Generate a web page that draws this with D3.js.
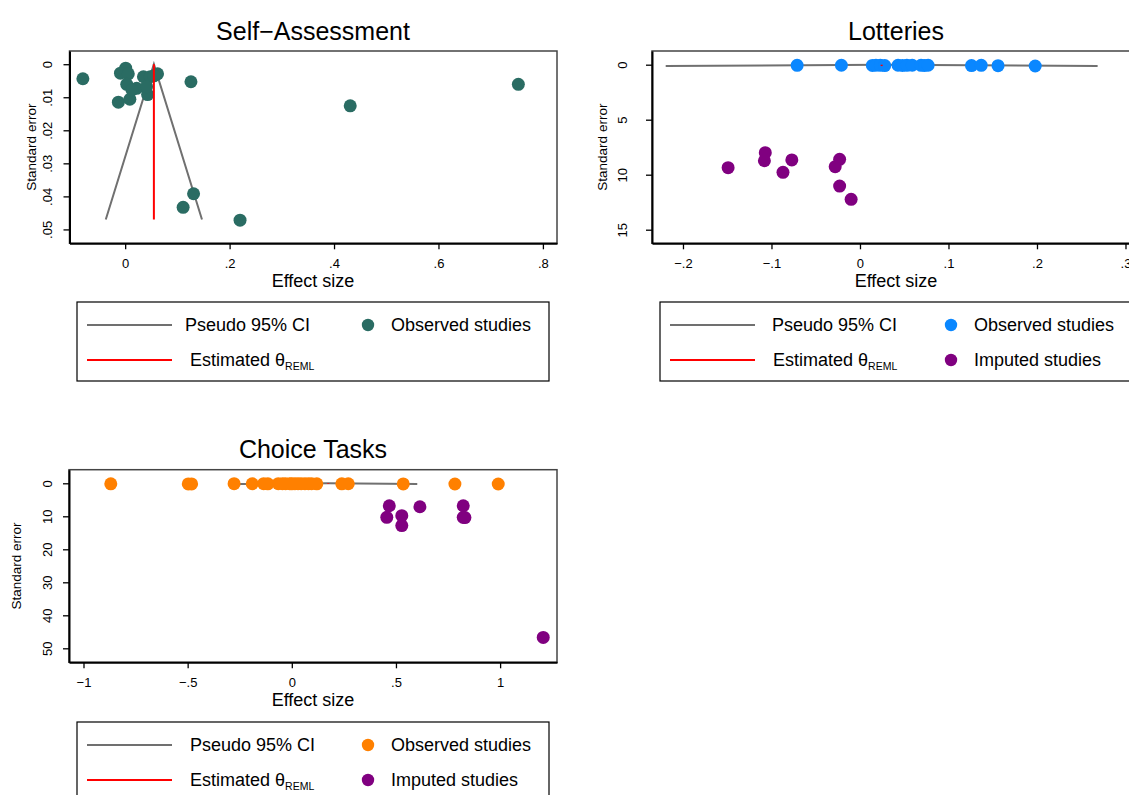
<!DOCTYPE html>
<html>
<head>
<meta charset="utf-8">
<script src="https://cdn.jsdelivr.net/npm/d3@7"></script>
<style>
  html, body { margin: 0; padding: 0; background: #fff; }
  svg { display: block; font-family: "Liberation Sans", Arial, Helvetica, sans-serif; }
</style>
</head>
<body>
<svg id="chart" width="1129" height="795"></svg>
<script>
// ---------- Self-Assessment ----------
const saEffect = [-0.081, 0.753, 0.431, 0.126, 0.131, 0.111, 0.220, -0.013, 0.009, 0.043, 0.062,
                  0.001, -0.009, 0.006, 0.003, 0.022, 0.035, 0.048, 0.041, 0.013, 0.055];
const saSE     = [0.0044, 0.0061, 0.0126, 0.0053, 0.0392, 0.0433, 0.0472, 0.0115, 0.0106, 0.0092, 0.0029,
                  0.0012, 0.0027, 0.0029, 0.0061, 0.0073, 0.0038, 0.0038, 0.0068, 0.0078, 0.0035];
const saTheta = 0.055;
const saMaxSE = 0.047;
const saXTicks = [0, 0.2, 0.4, 0.6, 0.8];
const saXLabels = ["0", ".2", ".4", ".6", ".8"];
const saYTicks = [0, 0.01, 0.02, 0.03, 0.04, 0.05];
const saYLabels = ["0", ".01", ".02", ".03", ".04", ".05"];

// ---------- Lotteries ----------
const lotEffect = [-0.071, -0.021, 0.014, 0.018, 0.023, 0.028, 0.043, 0.048, 0.053, 0.059,
                   0.069, 0.073, 0.077, 0.126, 0.137, 0.156, 0.198];
const lotSE     = [0.06, 0.05, 0.07, 0.05, 0.06, 0.08, 0.05, 0.07, 0.06, 0.05,
                   0.06, 0.07, 0.05, 0.08, 0.06, 0.09, 0.12];
const lotImpEffect = [-0.149, -0.107, -0.108, -0.077, -0.087, -0.023, -0.028, -0.023, -0.010];
const lotImpSE     = [9.36, 8.00, 8.73, 8.66, 9.78, 8.60, 9.27, 11.03, 12.24];
const lotTheta = 0.0245;
const lotMaxSE = 0.1245;
const lotXTicks = [-0.2, -0.1, 0, 0.1, 0.2, 0.3];
const lotXLabels = ["\u2212.2", "\u2212.1", "0", ".1", ".2", ".3"];
const lotYTicks = [0, 5, 10, 15];
const lotYLabels = ["0", "5", "10", "15"];

// ---------- Choice Tasks ----------
const ctEffect = [-0.869, -0.497, -0.481, -0.277, -0.190, -0.135, -0.115, -0.065, -0.045, -0.030,
                  -0.010, 0.000, 0.015, 0.030, 0.045, 0.063, 0.080, 0.095, 0.120, 0.240,
                  0.271, 0.535, 0.783, 0.991];
const ctSE     = [0.15, 0.20, 0.18, 0.12, 0.14, 0.10, 0.16, 0.11, 0.13, 0.12,
                  0.10, 0.15, 0.12, 0.11, 0.14, 0.10, 0.13, 0.12, 0.15, 0.17,
                  0.14, 0.19, 0.21, 0.218];
const ctImpEffect = [0.468, 0.456, 0.528, 0.528, 0.615, 0.823, 0.823, 0.831, 1.207];
const ctImpSE     = [6.8, 10.3, 9.8, 12.8, 7.1, 6.8, 10.3, 10.4, 46.7];
const ctTheta = 0.175;
const ctMaxSE = 0.218;
const ctXTicks = [-1, -0.5, 0, 0.5, 1];
const ctXLabels = ["\u22121", "\u2212.5", "0", ".5", "1"];
const ctYTicks = [0, 10, 20, 30, 40, 50];
const ctYLabels = ["0", "10", "20", "30", "40", "50"];

// ---------- colours ----------
const colGreen = "#2a6c63";
const colBlue = "#0a87ff";
const colOrange = "#ff8000";
const colPurple = "#800080";
const colCI = "#707070";
const colTheta = "#ff0000";

const svg = d3.select("#chart");

function drawPanel(p) {
  const g = svg.append("g");
  const x = d3.scaleLinear().domain(p.xDomain).range([p.left, p.right]);
  const y = d3.scaleLinear().domain(p.yDomain).range([p.top, p.bottom]);

  // plot region outline
  g.append("rect")
    .attr("x", p.left).attr("y", p.top)
    .attr("width", p.right - p.left).attr("height", p.bottom - p.top)
    .attr("fill", "none").attr("stroke", "#444").attr("stroke-width", 1.5);

  // pseudo 95% confidence limits
  const ci = [[p.theta - 1.96 * p.maxSE, p.maxSE], [p.theta, 0], [p.theta + 1.96 * p.maxSE, p.maxSE]];
  g.append("path").datum(ci)
    .attr("d", d3.line().x(d => x(d[0])).y(d => y(d[1])))
    .attr("fill", "none").attr("stroke", colCI).attr("stroke-width", 2);

  // observed studies
  g.append("g").selectAll("circle")
    .data(d3.zip(p.obsEffect, p.obsSE))
    .join("circle")
    .attr("cx", d => x(d[0])).attr("cy", d => y(d[1]))
    .attr("r", 6.5).attr("fill", p.obsColor);

  // imputed studies
  if (p.impEffect) {
    g.append("g").selectAll("circle")
      .data(d3.zip(p.impEffect, p.impSE))
      .join("circle")
      .attr("cx", d => x(d[0])).attr("cy", d => y(d[1]))
      .attr("r", 6.5).attr("fill", colPurple);
  }

  // estimated effect
  g.append("line")
    .attr("x1", x(p.theta)).attr("x2", x(p.theta))
    .attr("y1", y(0)).attr("y2", y(p.maxSE))
    .attr("stroke", colTheta).attr("stroke-width", 2);

  // x axis
  const xAxis = d3.axisBottom(x)
    .tickValues(p.xTicks)
    .tickFormat(d => p.xLabels[p.xTicks.indexOf(d)])
    .tickSize(6).tickSizeOuter(0);
  const gx = g.append("g").attr("transform", `translate(0,${p.bottom})`).call(xAxis)
    .attr("font-family", null).attr("font-size", null);
  gx.select(".domain").attr("stroke", "#000").attr("stroke-width", 2);
  gx.selectAll(".tick line").attr("stroke", "#000").attr("stroke-width", 1.3);
  gx.selectAll(".tick text").attr("y", 25).attr("dy", 0)
    .attr("font-size", 13).attr("fill", "#000");

  // y axis
  const yAxis = d3.axisLeft(y)
    .tickValues(p.yTicks)
    .tickFormat(d => p.yLabels[p.yTicks.indexOf(d)])
    .tickSize(6).tickSizeOuter(0);
  const gy = g.append("g").attr("transform", `translate(${p.left},0)`).call(yAxis)
    .attr("font-family", null).attr("font-size", null);
  gy.select(".domain").attr("stroke", "#000").attr("stroke-width", 2);
  gy.selectAll(".tick line").attr("stroke", "#000").attr("stroke-width", 1.3);
  gy.selectAll(".tick text")
    .attr("x", null).attr("dy", null)
    .attr("transform", `translate(${-p.yLabelOffset},0) rotate(-90)`)
    .attr("text-anchor", "middle")
    .attr("font-size", 13).attr("fill", "#000");

  // titles
  g.append("text").attr("x", p.titleX).attr("y", p.top - 11.5)
    .attr("text-anchor", "middle").attr("font-size", 25).attr("fill", "#000")
    .text(p.title);
  g.append("text").attr("x", p.titleX).attr("y", p.bottom + 44)
    .attr("text-anchor", "middle").attr("font-size", 18).attr("fill", "#000")
    .text("Effect size");
  g.append("text")
    .attr("transform", `translate(${p.yTitleX},${(p.top + p.bottom) / 2}) rotate(-90)`)
    .attr("text-anchor", "middle").attr("font-size", 13.5).attr("fill", "#000")
    .text("Standard error");

  // legend
  const L = p.legend;
  g.append("rect").attr("x", L.x0).attr("y", L.y0)
    .attr("width", L.x1 - L.x0).attr("height", L.y1 - L.y0)
    .attr("fill", "#fff").attr("stroke", "#000").attr("stroke-width", 1.2);
  const row1 = L.y0 + 23, row2 = L.y0 + 58;
  g.append("line").attr("x1", L.x0 + 10).attr("x2", L.x0 + 95)
    .attr("y1", row1).attr("y2", row1).attr("stroke", colCI).attr("stroke-width", 2);
  g.append("text").attr("x", L.x0 + L.t1).attr("y", row1).attr("dy", "0.36em")
    .attr("font-size", 18).attr("fill", "#000").text("Pseudo 95% CI");
  g.append("line").attr("x1", L.x0 + 10).attr("x2", L.x0 + 95)
    .attr("y1", row2).attr("y2", row2).attr("stroke", colTheta).attr("stroke-width", 2);
  const est = g.append("text").attr("x", L.x0 + 113).attr("y", row2).attr("dy", "0.36em")
    .attr("font-size", 18).attr("fill", "#000");
  est.append("tspan").text("Estimated \u03b8");
  est.append("tspan").attr("font-size", 10.5).attr("dy", "0.3em").text("REML");

  g.append("circle").attr("cx", L.x0 + 291).attr("cy", row1).attr("r", 6.2).attr("fill", p.obsColor);
  g.append("text").attr("x", L.x0 + 314).attr("y", row1).attr("dy", "0.36em")
    .attr("font-size", 18).attr("fill", "#000").text("Observed studies");
  if (p.impEffect) {
    g.append("circle").attr("cx", L.x0 + 291).attr("cy", row2).attr("r", 6.2).attr("fill", colPurple);
    g.append("text").attr("x", L.x0 + 314).attr("y", row2).attr("dy", "0.36em")
      .attr("font-size", 18).attr("fill", "#000").text("Imputed studies");
  }
}

drawPanel({
  title: "Self\u2212Assessment", titleX: 313,
  left: 69.5, right: 557, top: 51, bottom: 243.3,
  xDomain: [-0.1066, 0.827], yDomain: [-0.004, 0.0542],
  xTicks: saXTicks, xLabels: saXLabels, yTicks: saYTicks, yLabels: saYLabels,
  yLabelOffset: 17.5, yTitleX: 36,
  obsEffect: saEffect, obsSE: saSE, obsColor: colGreen,
  theta: saTheta, maxSE: saMaxSE,
  legend: { x0: 77, y0: 302, x1: 549, y1: 381, t1: 108 }
});

drawPanel({
  title: "Lotteries", titleX: 896,
  left: 652, right: 1140, top: 51, bottom: 243.3,
  xDomain: [-0.235, 0.3164], yDomain: [-1.245, 16.236],
  xTicks: lotXTicks, xLabels: lotXLabels, yTicks: lotYTicks, yLabels: lotYLabels,
  yLabelOffset: 25.5, yTitleX: 607,
  obsEffect: lotEffect, obsSE: lotSE, obsColor: colBlue,
  impEffect: lotImpEffect, impSE: lotImpSE,
  theta: lotTheta, maxSE: lotMaxSE,
  legend: { x0: 660, y0: 302, x1: 1150, y1: 381, t1: 112 }
});

drawPanel({
  title: "Choice Tasks", titleX: 313,
  left: 69, right: 557, top: 469.7, bottom: 662.3,
  xDomain: [-1.0696, 1.2731], yDomain: [-4.12, 54.24],
  xTicks: ctXTicks, xLabels: ctXLabels, yTicks: ctYTicks, yLabels: ctYLabels,
  yLabelOffset: 17.5, yTitleX: 21,
  obsEffect: ctEffect, obsSE: ctSE, obsColor: colOrange,
  impEffect: ctImpEffect, impSE: ctImpSE,
  theta: ctTheta, maxSE: ctMaxSE,
  legend: { x0: 77, y0: 722, x1: 549, y1: 830, t1: 113 }
});
</script>
</body>
</html>
